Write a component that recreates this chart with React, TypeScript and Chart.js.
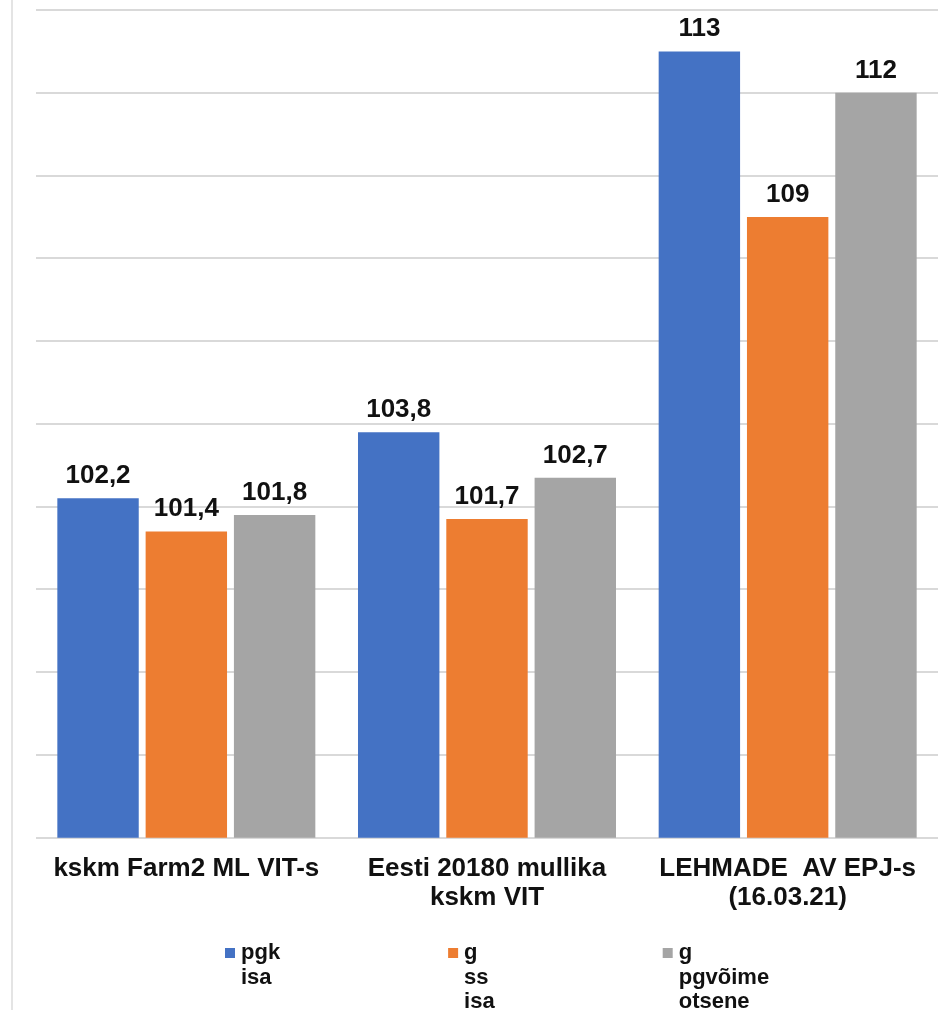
import { useEffect, useRef } from "react";
import { Chart, registerables } from "chart.js";

Chart.register(...registerables);

// Category labels (multi-line) along the x axis
const categories: string[][] = [
  ["kskm Farm2 ML VIT-s"],
  ["Eesti 20180 mullika", "kskm VIT"],
  ["LEHMADE  AV EPJ-s", "(16.03.21)"],
];

// Series names, each shown on several lines in the legend
const seriesNames: string[][] = [
  ["pgk", "isa"],
  ["g", "ss", "isa"],
  ["g", "pgvõime", "otsene"],
];

// Index values per category
const pgkIsa = [102.2, 103.8, 113];
const gSsIsa = [101.4, 101.7, 109];
const gPgvoimeOtsene = [101.8, 102.7, 112];

const seriesColors = ["#4472C4", "#ED7D31", "#A5A5A5"];

// Value axis range
const yMin = 94;
const yMax = 114;
const yStep = 2;

const FONT = "'Liberation Sans', Arial, Helvetica, sans-serif";

const formatValue = (v: number) => String(v).replace(".", ",");

// Writes each bar's value above it
const valueLabels = {
  id: "valueLabels",
  afterDatasetsDraw(chart: any) {
    const ctx = chart.ctx as CanvasRenderingContext2D;
    ctx.save();
    ctx.font = `bold 26px ${FONT}`;
    ctx.fillStyle = "#111";
    ctx.textAlign = "center";
    ctx.textBaseline = "alphabetic";
    chart.data.datasets.forEach((ds: any, i: number) => {
      const meta = chart.getDatasetMeta(i);
      meta.data.forEach((bar: any, j: number) => {
        ctx.fillText(formatValue(ds.data[j]), bar.x, bar.y - 15);
      });
    });
    ctx.restore();
  },
};

// Legend in three columns with stacked label lines
const columnLegend = {
  id: "columnLegend",
  afterDraw(chart: any) {
    const ctx = chart.ctx as CanvasRenderingContext2D;
    const area = chart.chartArea;
    const box = 10;
    const textGap = 6;
    const itemGap = 168;
    const lineHeight = 24.5;
    const firstLineY = chart.height - 57;
    ctx.save();
    ctx.font = `bold 22px ${FONT}`;
    ctx.textBaseline = "middle";
    ctx.textAlign = "left";
    let x = area.left + 189;
    chart.data.datasets.forEach((ds: any) => {
      const lines: string[] = ds.label.split("\n");
      ctx.fillStyle = ds.backgroundColor;
      ctx.fillRect(x, firstLineY - box / 2, box, box);
      ctx.fillStyle = "#111";
      let w = 0;
      lines.forEach((line, k) => {
        ctx.fillText(line, x + box + textGap, firstLineY + k * lineHeight);
        w = Math.max(w, ctx.measureText(line).width);
      });
      x += box + textGap + w + itemGap;
    });
    ctx.restore();
  },
};

export default function App() {
  const canvasRef = useRef<HTMLCanvasElement | null>(null);

  useEffect(() => {
    if (!canvasRef.current) return;
    const values = [pgkIsa, gSsIsa, gPgvoimeOtsene];
    const chart = new Chart(canvasRef.current, {
      type: "bar",
      data: {
        labels: categories,
        datasets: values.map((data, i) => ({
          label: seriesNames[i].join("\n"),
          data,
          backgroundColor: seriesColors[i],
          borderWidth: 0,
          categoryPercentage: 0.881,
          barPercentage: 0.922,
        })),
      },
      options: {
        animation: false,
        responsive: false,
        devicePixelRatio: 1,
        layout: { padding: { left: 36, right: 5, top: 10, bottom: 81 } },
        plugins: {
          legend: { display: false },
          tooltip: { enabled: false },
          title: { display: false },
        },
        scales: {
          x: {
            grid: { display: false, drawTicks: false },
            border: { display: false },
            ticks: {
              color: "#111",
              padding: 16,
              maxRotation: 0,
              autoSkip: false,
              font: { family: FONT, size: 26, weight: "bold", lineHeight: 1.14 },
            },
          },
          y: {
            min: yMin,
            max: yMax,
            ticks: { display: false, stepSize: yStep },
            grid: { color: "#d9d9d9", lineWidth: 2, drawTicks: false },
            border: { display: false },
          },
        },
      },
      plugins: [valueLabels, columnLegend],
    });
    return () => chart.destroy();
  }, []);

  return (
    <div style={{ position: "fixed", left: 0, top: 0, width: 943, height: 1010, background: "#fff" }}>
      <div style={{ position: "absolute", left: 11, top: 0, width: 2, height: 1010, background: "#e4e4e4" }} />
      <canvas ref={canvasRef} width={943} height={1010} style={{ position: "absolute", left: 0, top: 0 }} />
    </div>
  );
}
